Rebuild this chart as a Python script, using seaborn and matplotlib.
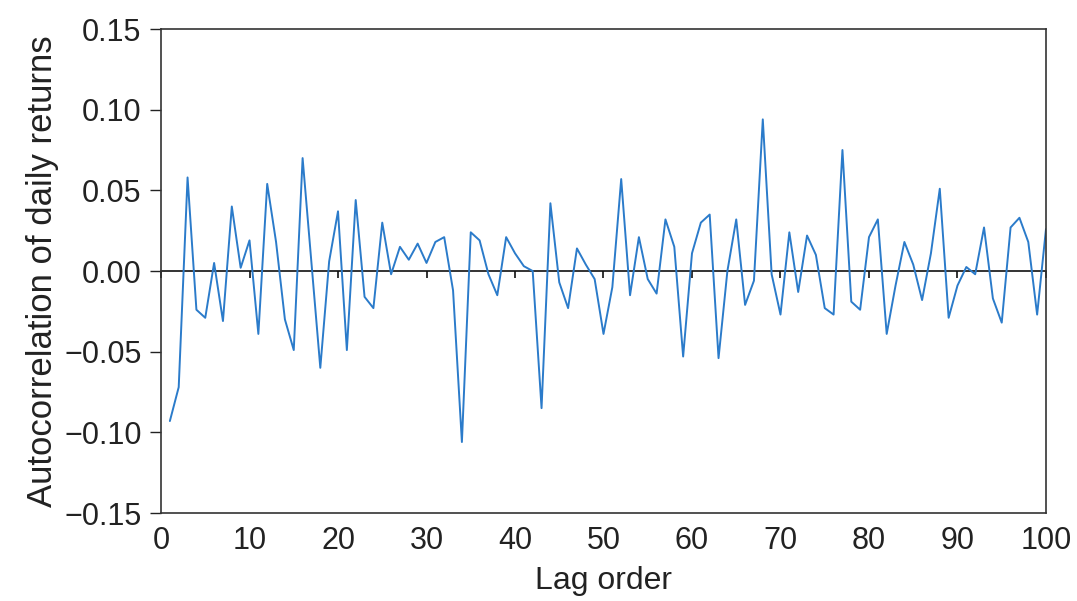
import numpy as np
import pandas as pd
import matplotlib
matplotlib.use('Agg')
import matplotlib.pyplot as plt
import seaborn as sns

lags = list(range(1, 101))
acf = [-0.093, -0.072, 0.058, -0.024, -0.029, 0.005, -0.031, 0.040, 0.002, 0.019,
       -0.039, 0.054, 0.018, -0.030, -0.049, 0.070, 0.005, -0.060, 0.006, 0.037,
       -0.049, 0.044, -0.016, -0.023, 0.030, -0.002, 0.015, 0.007, 0.017, 0.005,
       0.018, 0.021, -0.012, -0.106, 0.024, 0.019, -0.002, -0.015, 0.021, 0.011,
       0.003, 0.000, -0.085, 0.042, -0.007, -0.023, 0.014, 0.004, -0.005, -0.039,
       -0.010, 0.057, -0.015, 0.021, -0.005, -0.014, 0.032, 0.015, -0.053, 0.011,
       0.030, 0.035, -0.054, 0.000, 0.032, -0.021, -0.006, 0.094, -0.002, -0.027,
       0.024, -0.013, 0.022, 0.010, -0.023, -0.027, 0.075, -0.019, -0.024, 0.021,
       0.032, -0.039, -0.009, 0.018, 0.004, -0.018, 0.011, 0.051, -0.029, -0.009,
       0.0025, -0.002, 0.027, -0.017, -0.032, 0.027, 0.033, 0.018, -0.027, 0.026]

xticks = list(range(0, 101, 10))
yticks = [-0.15, -0.10, -0.05, 0.00, 0.05, 0.10, 0.15]
ytick_labels = ['\u22120.15', '\u22120.10', '\u22120.05', '0.00', '0.05', '0.10', '0.15']

df = pd.DataFrame({'lag': lags, 'acf': acf})

sns.set_style('white')
plt.rcParams['font.family'] = ['Liberation Sans', 'DejaVu Sans']
plt.rcParams['text.color'] = '#222222'
plt.rcParams['axes.labelcolor'] = '#222222'
plt.rcParams['xtick.color'] = '#222222'
plt.rcParams['ytick.color'] = '#222222'

fig = plt.figure(figsize=(10.77, 6.01), dpi=100)
ax = fig.add_axes([0.1495, 0.1464, 0.8217, 0.8053])

sns.lineplot(data=df, x='lag', y='acf', ax=ax, color='#2b7bca', linewidth=1.4)

ax.set_xlim(0, 100)
ax.set_ylim(-0.15, 0.15)
ax.set_xticks(xticks)
ax.set_yticks(yticks)
ax.set_yticklabels(ytick_labels)
ax.tick_params(axis='y', left=True, direction='out', length=8, width=1, pad=6, labelsize=22)
ax.tick_params(axis='x', bottom=False, pad=6, labelsize=22)

for s in ax.spines.values():
    s.set_color('#333333')
    s.set_linewidth(1.2)

# zero line with its own small ticks (hanging below the line)
zero = ax.secondary_xaxis(0.5)
zero.set_xticks(xticks)
zero.tick_params(axis='x', direction='in', length=5, width=1.2,
                 labelbottom=False, labeltop=False, color='#111111')
zero.spines['bottom'].set_color('#111111')
zero.spines['bottom'].set_linewidth(1.2)
zero.spines['top'].set_color('#111111')
zero.spines['top'].set_linewidth(1.2)

ax.set_xlabel('Lag order', fontsize=23, labelpad=7)
ax.set_ylabel('Autocorrelation of daily returns', fontsize=25, labelpad=4)

fig.savefig('out.png', dpi=100)
